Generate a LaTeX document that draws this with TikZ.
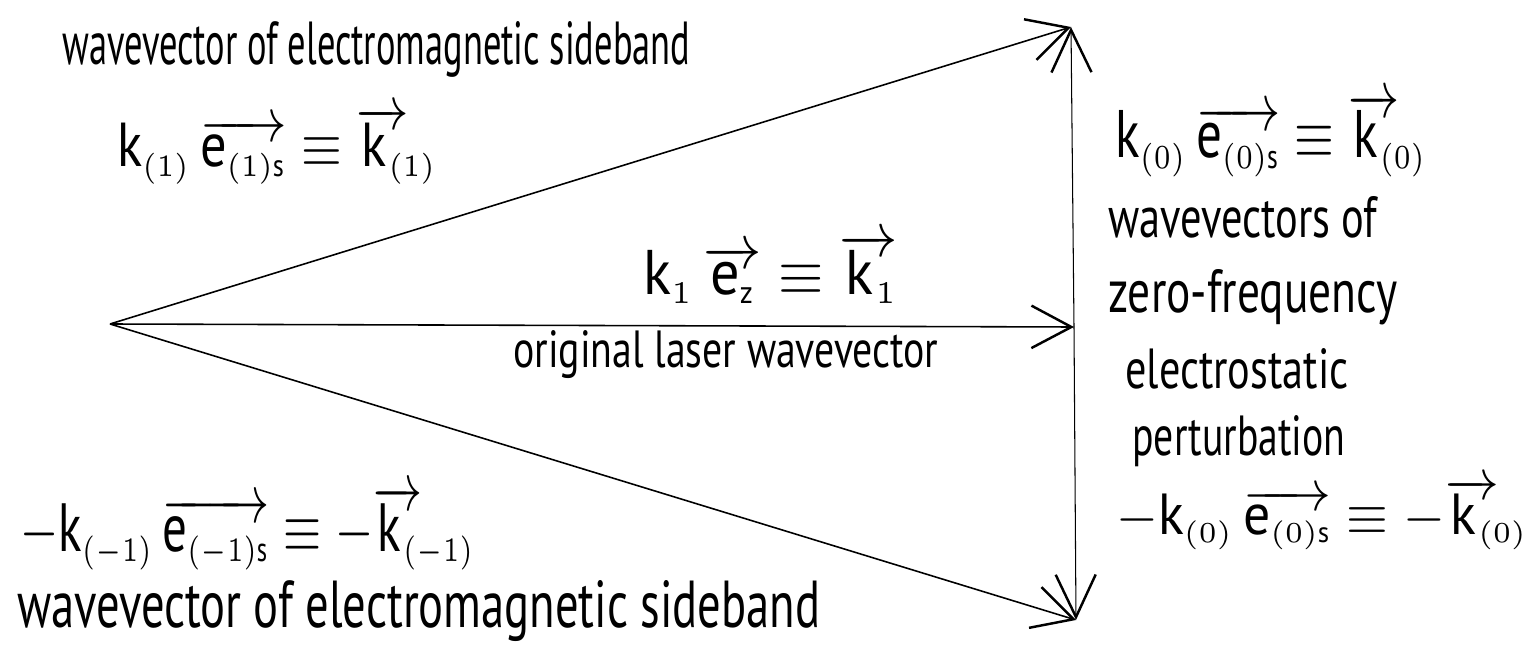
\documentclass[tikz,border=0pt]{standalone}
\usepackage{fontspec}
\setmainfont{PT Sans}
\usetikzlibrary{arrows.meta}
\newlength{\pxu}\setlength{\pxu}{0.02cm}
\newcommand{\fitwh}[3]{\resizebox{#1\pxu}{#2\pxu}{#3}}
\newcommand{\mysub}[1]{_{\scriptscriptstyle #1}}
\newcommand{\vk}[1]{{\overrightarrow{\mathrm{k}\mkern6mu}}\mkern-7mu{}\mysub{#1}}
\newcommand{\ve}[1]{\overrightarrow{\mathrm{e}\mysub{#1}}}
\begin{document}
\begin{tikzpicture}[x=0.02cm,y=-0.02cm,
  vec/.style={line width=0.9pt,-{Straight Barb[length=0.8cm,width=0.85cm,line width=1.4pt]}},
  thinvec/.style={line width=0.6pt,-{Straight Barb[length=0.85cm,width=0.8cm,line width=1.4pt]}},
  lbl/.style={inner sep=0pt,anchor=base west}]
\useasboundingbox (0,0) rectangle (1535,645);
\coordinate (O) at (110,324);
\coordinate (T) at (1071,27);
\coordinate (M) at (1074,327);
\coordinate (B) at (1076,620);
\draw[vec] (O) -- (T);
\draw[vec] (O) -- (M);
\draw[vec] (O) -- (B);
\draw[thinvec] (M) -- (T);
\draw[thinvec] (M) -- (B);
% left labels
\node[lbl] (tl1) at (62,65) {\fitwh{628}{43}{wavevector of electromagnetic sideband}};
\node[lbl] (tl2) at (117,167) {\fitwh{320}{60}{$\mathrm{k}\mysub{(1)}\,\ve{(1)\mathrm{s}}\equiv\vk{(1)}$}};
\node[lbl] (mid1) at (643,294) {\fitwh{255}{61}{$\mathrm{k}\mysub{1}\,\ve{\mathrm{z}}\equiv\vk{1}$}};
\node[lbl] (mid2) at (513,367) {\fitwh{425}{37}{original laser wavevector}};
\node[lbl] (bl1) at (20,551) {\fitwh{455}{66}{$-\mathrm{k}\mysub{(-1)}\,\ve{(-1)\mathrm{s}}\equiv-\vk{(-1)}$}};
\node[lbl] (bl2) at (17,627) {\fitwh{803}{47}{wavevector of electromagnetic sideband}};
% right labels
\node[lbl] (r1) at (1115,158) {\fitwh{312}{65}{$\mathrm{k}\mysub{(0)}\,\ve{(0)\mathrm{s}}\equiv\vk{(0)}$}};
\node[lbl] (r2) at (1108,238) {\fitwh{269}{41}{wavevectors of}};
\node[lbl] (r3) at (1108,313) {\fitwh{289}{43}{zero-frequency}};
\node[lbl] (r4) at (1125,388) {\fitwh{223}{40}{electrostatic}};
\node[lbl] (r5) at (1132,455) {\fitwh{213}{40}{perturbation}};
\node[lbl] (r6) at (1116,534) {\fitwh{412}{56}{$-\mathrm{k}\mysub{(0)}\,\ve{(0)\mathrm{s}}\equiv-\vk{(0)}$}};
\end{tikzpicture}
\end{document}
